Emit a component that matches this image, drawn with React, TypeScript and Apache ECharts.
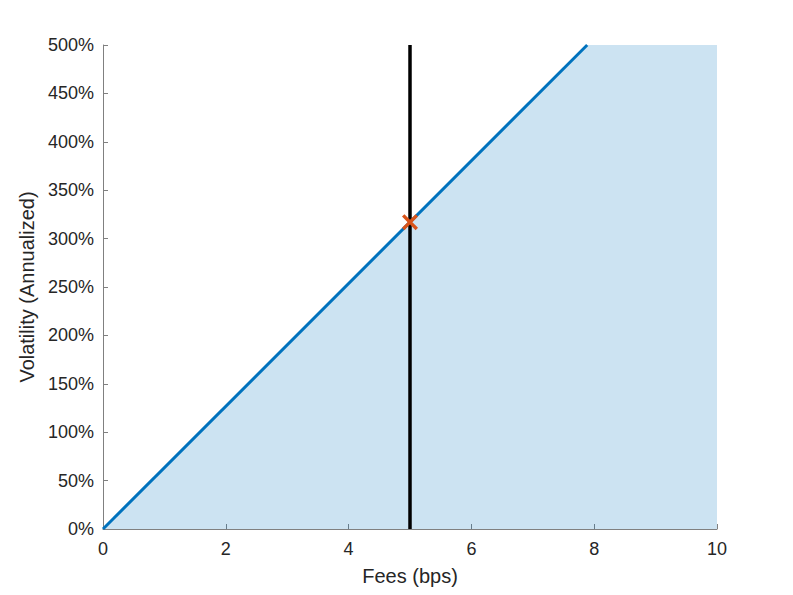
import React, { useEffect, useRef } from "react";
import * as echarts from "echarts";

const xTicks = [0, 2, 4, 6, 8, 10];
const boundaryFees = [0, 7.886];
const boundaryVol = [0, 500];
const regionFees = [0, 7.886, 10];
const regionVol = [0, 500, 500];
const currentFees = [5, 5];
const currentVolRange = [0, 500];
const pointFees = [5];
const pointVol = [317];

const TEXT = "#262626";
const AXIS = "#808080";
const FONT = "'Liberation Sans', Arial, Helvetica, sans-serif";

const crossPath =
  "path://M0,1.5L1.5,0L5,3.5L8.5,0L10,1.5L6.5,5L10,8.5L8.5,10L5,6.5L1.5,10L0,8.5L3.5,5Z";

export default function App() {
  const ref = useRef<HTMLDivElement>(null);
  useEffect(() => {
    if (!ref.current) return;
    const chart = echarts.init(ref.current, undefined, { renderer: "svg" });
    const zip = (a: number[], b: number[]) => a.map((v, i) => [v, b[i]]);
    chart.setOption({
      animation: false,
      grid: { left: 103, right: 76, top: 45, bottom: 66, containLabel: false },
      xAxis: {
        type: "value",
        min: 0,
        max: 10,
        interval: 2,
        name: "Fees (bps)",
        nameLocation: "middle",
        nameGap: 37,
        nameTextStyle: { color: TEXT, fontSize: 20, fontFamily: FONT },
        axisLine: { show: true, lineStyle: { color: AXIS, width: 1 } },
        axisTick: { show: true, inside: true, length: 5, lineStyle: { color: AXIS } },
        axisLabel: {
          color: TEXT,
          fontSize: 18,
          fontFamily: FONT,
          margin: 11,
          formatter: (v: number) => (xTicks.includes(v) ? String(v) : ""),
        },
        splitLine: { show: false },
      },
      yAxis: {
        type: "value",
        min: 0,
        max: 500,
        interval: 50,
        name: "Volatility (Annualized)",
        nameLocation: "middle",
        nameGap: 63,
        nameTextStyle: { color: TEXT, fontSize: 20, fontFamily: FONT },
        axisLine: { show: true, lineStyle: { color: AXIS, width: 1 } },
        axisTick: { show: true, inside: true, length: 5, lineStyle: { color: AXIS } },
        axisLabel: {
          color: TEXT,
          fontSize: 18,
          fontFamily: FONT,
          margin: 9,
          formatter: (v: number) => v + "%",
        },
        splitLine: { show: false },
      },
      series: [
        {
          type: "line",
          data: zip(regionFees, regionVol),
          symbol: "none",
          lineStyle: { width: 0, opacity: 0 },
          areaStyle: { color: "#0072BD", opacity: 0.2 },
          z: 1,
        },
        {
          type: "line",
          data: zip(boundaryFees, boundaryVol),
          symbol: "none",
          lineStyle: { color: "#0072BD", width: 3 },
          z: 2,
        },
        {
          type: "line",
          data: zip(currentFees, currentVolRange),
          symbol: "none",
          lineStyle: { color: "#000000", width: 3.5 },
          z: 3,
        },
        {
          type: "scatter",
          data: zip(pointFees, pointVol),
          symbol: crossPath,
          symbolSize: 16,
          itemStyle: { color: "#D95319", opacity: 1 },
          z: 4,
        },
      ],
    });
    return () => chart.dispose();
  }, []);
  return (
    <div
      ref={ref}
      style={{ position: "fixed", left: 0, top: 0, width: 793, height: 595, background: "#fff" }}
    />
  );
}
